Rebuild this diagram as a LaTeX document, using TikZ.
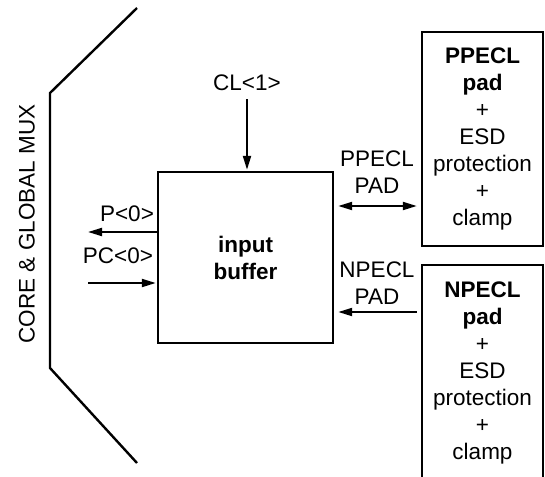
\documentclass[tikz,border=0pt]{standalone}
\usepackage{fontspec}
\setmainfont{Liberation Sans}
\usetikzlibrary{arrows.meta}

\begin{document}
\begin{tikzpicture}[x=1pt,y=-1pt,
    font=\fontsize{22.5}{27}\selectfont,
    blk/.style={draw, line width=2.4pt, align=center, inner sep=0pt},
    lbl/.style={align=center, inner sep=0pt},
    sig/.style={line width=2pt, -{Triangle[length=14pt,width=8pt]}},
    bisig/.style={line width=2pt, {Triangle[length=14pt,width=8pt]}-{Triangle[length=14pt,width=8pt]}}]
    \useasboundingbox (0,0) rectangle (545,476);

    % Core & global mux
    \draw[line width=2.4pt] (137,8) -- (50,93) -- (50,368) -- (137,463);
    \node[lbl, rotate=90] (mux) at (27,224) {CORE \& GLOBAL MUX};

    % Input buffer
    \node[blk, minimum width=175pt, minimum height=171pt] (ibuf) at (245.5,257.5) {\textbf{input}\\\textbf{buffer}};

    % PPECL pad
    \node[blk, minimum width=121pt, minimum height=214pt] (ppad) at (482.5,139)
        {\textbf{PPECL}\\\textbf{pad}\\+\\ESD\\protection\\+\\clamp};

    % NPECL pad
    \node[blk, minimum width=121pt, minimum height=215pt] (npad) at (482.5,372.5)
        {\textbf{NPECL}\\\textbf{pad}\\+\\ESD\\protection\\+\\clamp};

    % CL<1>
    \node[lbl] (cl) at (247,83) {CL<1>};
    \draw[sig, shorten <=8pt, shorten >=1pt] (cl.south) -- (cl.south |- ibuf.north);

    % P<0> and PC<0>
    \coordinate (pout) at (88,232);
    \coordinate (pcin) at (88,283);
    \draw[sig] (ibuf.west |- pout) -- (pout);
    \draw[sig, shorten >=1pt] (pcin) -- (ibuf.west |- pcin);
    \node[lbl] (plbl) at (127,214) {P<0>};
    \node[lbl] (pclbl) at (118,256) {PC<0>};

    % Pad links
    \coordinate (plink) at (377,206);
    \coordinate (nlink) at (377,312);
    \draw[bisig, shorten <=4pt, shorten >=4pt] (ibuf.east |- plink) -- (ppad.west |- plink);
    \draw[sig, shorten <=4pt, shorten >=4pt] (npad.west |- nlink) -- (ibuf.east |- nlink);
    \node[lbl] (plinklbl) at (377,172) {PPECL\\PAD};
    \node[lbl] (nlinklbl) at (377,283) {NPECL\\PAD};
\end{tikzpicture}
\end{document}
